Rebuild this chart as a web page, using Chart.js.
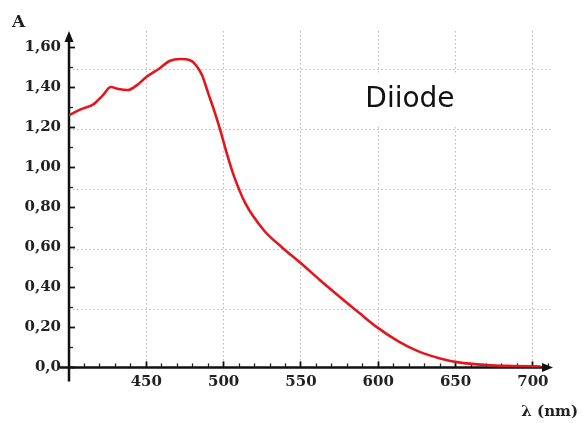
<!DOCTYPE html>
<html>
<head>
<meta charset="utf-8">
<script src="https://cdn.jsdelivr.net/npm/chart.js@4.4.0/dist/chart.umd.min.js"></script>
<style>
  body { margin: 0; background: #fff; }
  canvas { display: block; }
</style>
</head>
<body>
<canvas id="myChart" width="583" height="423"></canvas>
<script>
// absorbance spectrum
const wavelength = [400, 408, 416, 422, 427, 432, 438, 444, 450, 458, 465, 472, 478, 482, 486, 490, 494, 498, 502, 506, 514, 526, 538, 550, 562, 575, 588, 600, 613, 626, 640, 652, 670, 687, 705];
const absorbance = [1.26, 1.29, 1.315, 1.36, 1.40, 1.39, 1.385, 1.41, 1.45, 1.49, 1.53, 1.54, 1.535, 1.51, 1.46, 1.37, 1.28, 1.18, 1.07, 0.97, 0.82, 0.685, 0.598, 0.52, 0.438, 0.353, 0.27, 0.196, 0.13, 0.08, 0.045, 0.025, 0.012, 0.007, 0.004];

const xTickValues = [450, 500, 550, 600, 650, 700];
const xMinorTicks = [410, 420, 430, 440, 460, 470, 480, 490, 510, 520, 530, 540, 560, 570, 580, 590, 610, 620, 630, 640, 660, 670, 680, 690, 710];
const yTickValues = [0, 0.2, 0.4, 0.6, 0.8, 1.0, 1.2, 1.4, 1.6];
const yTickLabels = ["0,0", "0,20", "0,40", "0,60", "0,80", "1,00", "1,20", "1,40", "1,60"];
const yMinorTicks = [0.1, 0.3, 0.5, 0.7, 0.9, 1.1, 1.3, 1.5];
const yGridValues = [0.2875, 0.5875, 0.8875, 1.1875, 1.4875];

const X_MIN = 400, X_MAX = 713;
const Y_MIN = 0, Y_MAX = 1.68;

// "Diiode" label box, in data units
const labelText = "Diiode";
const labelNm = [580, 661];
const labelA = [1.2, 1.47];

const serif = "'DejaVu Serif', serif";
const ink = "#222";
const gridGray = "#b8b8b8";

function setTicks(values) {
  return function(scale) {
    scale.ticks = values.map(v => ({ value: v }));
  };
}

const axesPlugin = {
  id: "axesArrows",
  beforeDatasetsDraw(chart) {
    const c = chart.ctx;
    const a = chart.chartArea;
    const xs = chart.scales.x;
    const ys = chart.scales.y;
    const x0 = xs.getPixelForValue(X_MIN);
    const y0 = ys.getPixelForValue(0);
    c.save();

    // white label box over the grid
    const bx1 = xs.getPixelForValue(labelNm[0]);
    const bx2 = xs.getPixelForValue(labelNm[1]);
    const by1 = ys.getPixelForValue(labelA[1]);
    const by2 = ys.getPixelForValue(labelA[0]);
    c.fillStyle = "#fff";
    c.fillRect(bx1, by1, bx2 - bx1, by2 - by1);
    c.fillStyle = "#111";
    c.font = "28px 'DejaVu Sans', sans-serif";
    c.textAlign = "center";
    c.textBaseline = "middle";
    c.fillText(labelText, (bx1 + bx2) / 2, (by1 + by2) / 2);

    // axes with arrows
    c.strokeStyle = "#111";
    c.lineWidth = 2.5;
    c.beginPath();
    c.moveTo(x0, y0 + 14);
    c.lineTo(x0, a.top + 6);
    c.moveTo(x0 - 9, y0);
    c.lineTo(a.right - 6, y0);
    c.stroke();
    c.fillStyle = "#111";
    c.beginPath();
    c.moveTo(x0, a.top);
    c.lineTo(x0 - 4.5, a.top + 11);
    c.lineTo(x0 + 4.5, a.top + 11);
    c.closePath();
    c.fill();
    c.beginPath();
    c.moveTo(a.right, y0);
    c.lineTo(a.right - 11, y0 - 4.5);
    c.lineTo(a.right - 11, y0 + 4.5);
    c.closePath();
    c.fill();
    c.restore();
  }
};

let ctx = document.getElementById("myChart").getContext("2d");
let myChart = new Chart(ctx, {
  type: "line",
  data: {
    datasets: [{
      data: wavelength.map((w, i) => ({ x: w, y: absorbance[i] })),
      xAxisID: "x",
      yAxisID: "y",
      borderColor: "#e3161c",
      borderWidth: 2.6,
      pointRadius: 0,
      fill: false,
      cubicInterpolationMode: "monotone"
    }]
  },
  options: {
    responsive: false,
    animation: false,
    layout: { padding: { left: 12, right: 5, top: 0, bottom: 0 } },
    plugins: {
      legend: { display: false },
      tooltip: { enabled: false },
      title: {
        display: true,
        text: "A",
        align: "start",
        color: ink,
        font: { family: serif, weight: "bold", size: 17, lineHeight: 1 },
        padding: { top: 14, bottom: 0 }
      },
      subtitle: {
        display: true,
        text: "λ (nm)",
        position: "bottom",
        align: "end",
        color: ink,
        font: { family: serif, weight: "bold", size: 15, lineHeight: 1 },
        padding: { top: 5, bottom: 3.6 }
      }
    },
    scales: {
      x: {
        type: "linear",
        position: "bottom",
        weight: 1,
        min: X_MIN,
        max: X_MAX,
        afterBuildTicks: setTicks(xTickValues),
        afterFit: s => { s.height = 32; },
        ticks: {
          color: ink,
          padding: 12,
          autoSkip: false,
          maxRotation: 0,
          font: { family: serif, weight: "bold", size: 15 }
        },
        grid: { color: gridGray, lineWidth: 1, tickLength: -6, tickColor: "#111", tickWidth: 1.8 },
        border: { display: false, dash: [1.5, 2.5] }
      },
      x2: {
        type: "linear",
        position: "bottom",
        min: X_MIN,
        max: X_MAX,
        afterBuildTicks: setTicks(xMinorTicks),
        afterFit: s => { s.height = 0; },
        ticks: { display: false },
        grid: { drawOnChartArea: false, tickLength: -4, tickColor: "#222", tickWidth: 1.3 },
        border: { display: false }
      },
      y: {
        type: "linear",
        position: "left",
        weight: 1,
        min: Y_MIN,
        max: Y_MAX,
        afterBuildTicks: setTicks(yTickValues),
        afterFit: s => { s.width = 57; },
        ticks: {
          color: ink,
          padding: 14,
          autoSkip: false,
          font: { family: serif, weight: "bold", size: 15 },
          callback: (v, i) => yTickLabels[i]
        },
        grid: { drawOnChartArea: false, tickLength: -6, tickColor: "#111", tickWidth: 1.8 },
        border: { display: false }
      },
      y2: {
        type: "linear",
        position: "left",
        min: Y_MIN,
        max: Y_MAX,
        afterBuildTicks: setTicks(yMinorTicks),
        afterFit: s => { s.width = 0; },
        ticks: { display: false },
        grid: { drawOnChartArea: false, tickLength: -4, tickColor: "#222", tickWidth: 1.3 },
        border: { display: false }
      },
      yGrid: {
        type: "linear",
        position: "left",
        min: Y_MIN,
        max: Y_MAX,
        afterBuildTicks: setTicks(yGridValues),
        afterFit: s => { s.width = 0; },
        ticks: { display: false },
        grid: { color: gridGray, lineWidth: 1, drawTicks: false },
        border: { display: false, dash: [1.5, 2.5] }
      },
      yR: {
        type: "linear",
        position: "right",
        afterFit: s => { s.width = 25; },
        ticks: { display: false },
        grid: { display: false },
        border: { display: false }
      }
    }
  },
  plugins: [axesPlugin]
});
</script>
</body>
</html>
